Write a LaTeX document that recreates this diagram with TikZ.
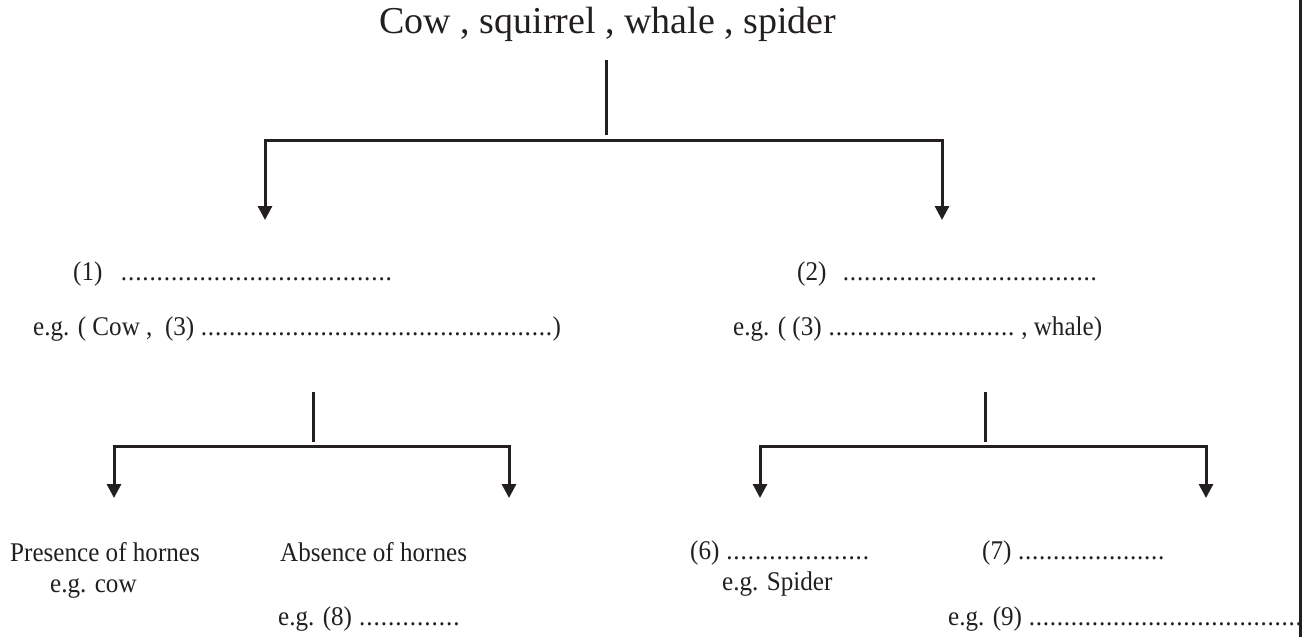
\documentclass[tikz,border=0pt]{standalone}
\usepackage{fontspec}
\setmainfont{Liberation Serif}
\newfontfamily\narrowserif{Liberation Serif}[FakeStretch=0.93]
\usetikzlibrary{arrows.meta, positioning}

\definecolor{inkGray}{RGB}{35,31,32}
\newcommand{\dotrun}[1]{\hbox to #1{\xleaders\hbox to 7pt{\hss.\hss}\hfill}}

\begin{document}
\begin{tikzpicture}[
        x=1pt, y=-1pt,
        titleNode/.style={
            inner sep=0pt, anchor=base, text=inkGray,
            font=\fontsize{38}{44}\selectfont
        },
        textNode/.style={
            inner sep=0pt, anchor=base west, text=inkGray,
            font=\narrowserif\fontsize{27}{32}\selectfont
        },
        stem/.style={
            line width=3pt, draw=inkGray
        },
        arrow/.style={
            stem, -{Triangle[width=14pt,length=14pt]}
        }
    ]
        \useasboundingbox (0,0) rectangle (1309,637);

        % Animals to sort
        \node (animals) [titleNode] at (608,33) {Cow , squirrel , whale , spider};

        % First split
        \node (groupOne) [textNode] at (73,280) {(1)\hspace{18pt}\dotrun{272pt}};
        \node (egOne) [textNode] at (33,335) {e.g. ( Cow ,\ \ (3) \dotrun{352pt})};
        \node (groupTwo) [textNode] at (797,280) {(2)\hspace{16pt}\dotrun{255pt}};
        \node (egTwo) [textNode] at (733,335) {e.g. ( (3) \dotrun{187pt} , whale)};

        % Second split, left side
        \node (horned) [textNode] at (10,561) {Presence of hornes};
        \node (hornedEg) [textNode] at (50,592) {e.g. cow};
        \node (hornless) [textNode] at (280,561) {Absence of hornes};
        \node (hornlessEg) [textNode] at (278,625) {e.g. (8) \dotrun{102pt}};

        % Second split, right side
        \node (groupSix) [textNode] at (690,559) {(6) \dotrun{144pt}};
        \node (sixEg) [textNode] at (722,590) {e.g. Spider};
        \node (groupSeven) [textNode] at (982,559) {(7) \dotrun{147pt}};
        \node (sevenEg) [textNode] at (948,625) {e.g. (9) \dotrun{274pt}};

        % Branch points
        \coordinate (rootTop) at (606,60);
        \coordinate (rootJoin) at (606,135);
        \coordinate (rootBar) at (606,140);
        \coordinate (oneTip) at (265,220);
        \coordinate (twoTip) at (942,220);

        \coordinate (oneTop) at (313,392);
        \coordinate (oneJoin) at (313,442);
        \coordinate (oneBar) at (313,446);
        \coordinate (hornedTip) at (114,498);
        \coordinate (hornlessTip) at (509,498);

        \coordinate (twoTop) at (985,392);
        \coordinate (twoJoin) at (985,442);
        \coordinate (twoBar) at (985,446);
        \coordinate (sixTip) at (760,498);
        \coordinate (sevenTip) at (1206,498);

        \draw [stem] (rootTop) -- (rootJoin);
        \draw [arrow] (rootBar) -| (oneTip);
        \draw [arrow] (rootBar) -| (twoTip);

        \draw [stem] (oneTop) -- (oneJoin);
        \draw [arrow] (oneBar) -| (hornedTip);
        \draw [arrow] (oneBar) -| (hornlessTip);

        \draw [stem] (twoTop) -- (twoJoin);
        \draw [arrow] (twoBar) -| (sixTip);
        \draw [arrow] (twoBar) -| (sevenTip);

        % Right edge rule
        \draw [stem] (1300,0) -- (1300,637);
    \end{tikzpicture}
\end{document}
